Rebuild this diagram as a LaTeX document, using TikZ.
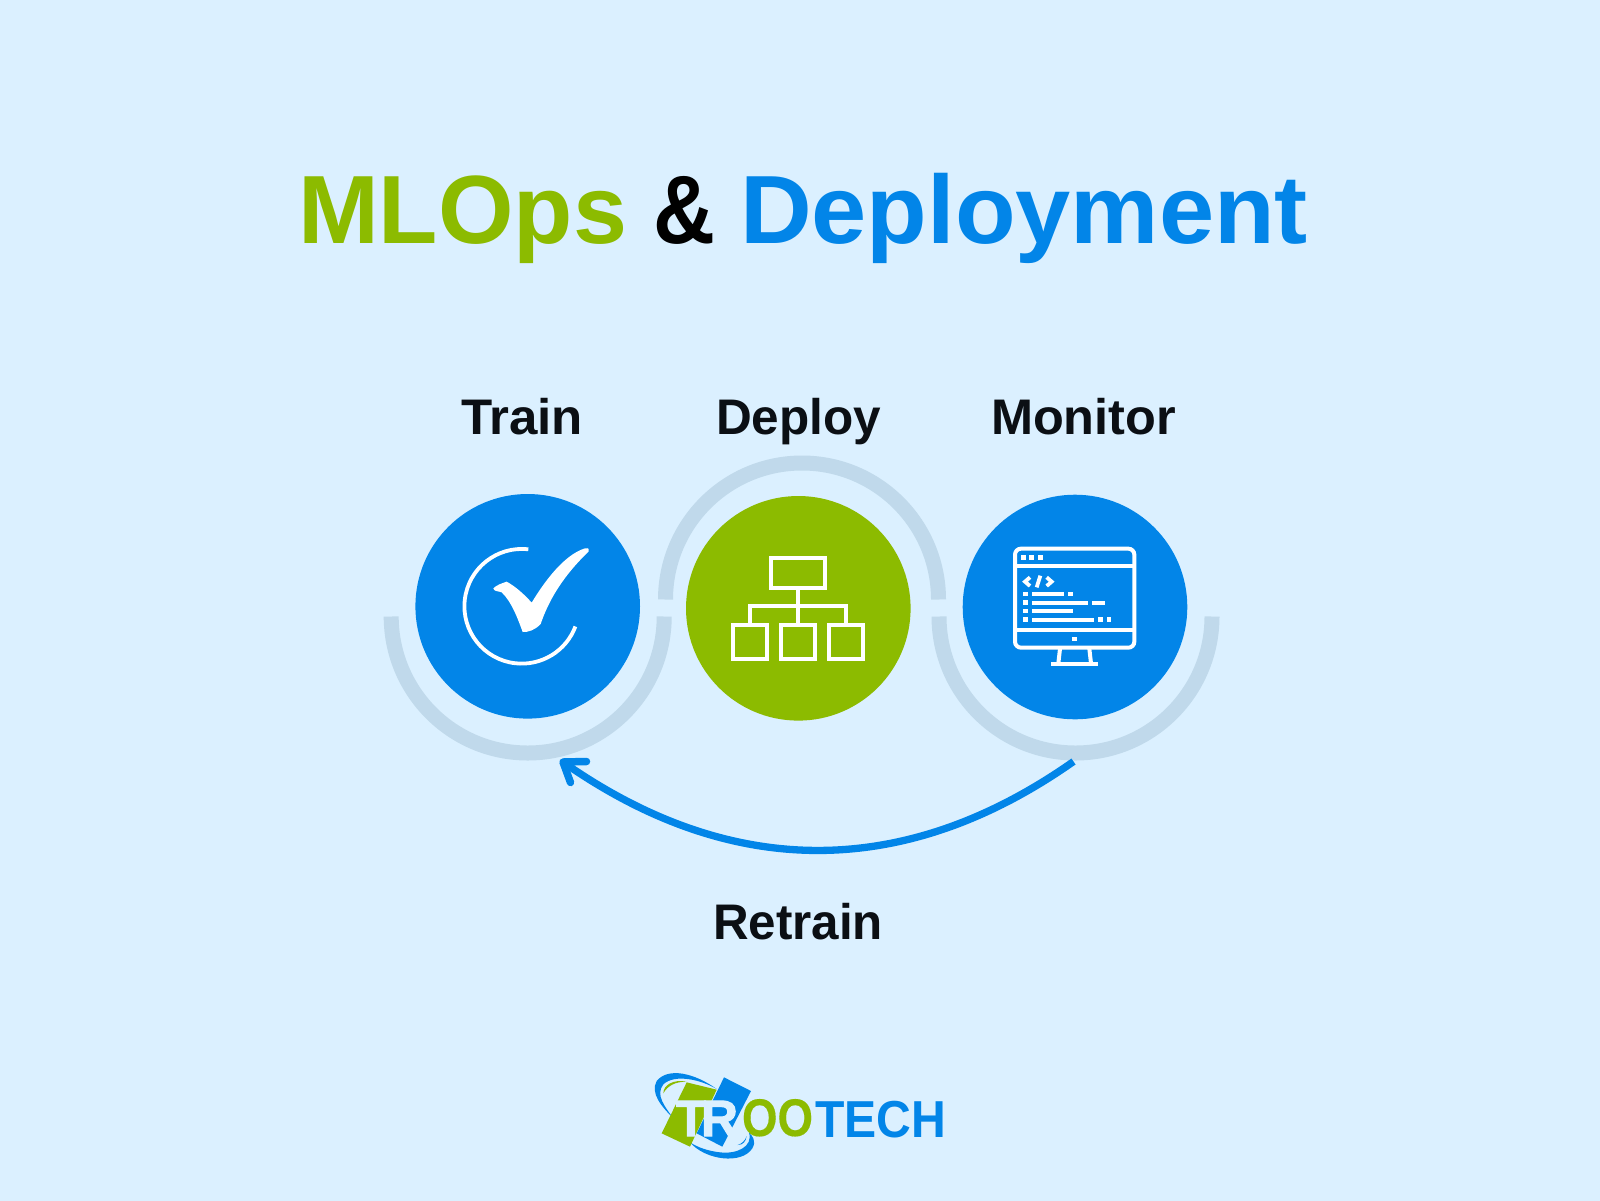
\documentclass[tikz,border=0pt]{standalone}
\usepackage{graphicx}
\usepackage{fontspec}
\setmainfont{Liberation Sans}
\newfontfamily\heavyA{Liberation Sans}[BoldFeatures={FakeBold=2.2}]
\newfontfamily\heavyB{Liberation Sans}[BoldFeatures={FakeBold=0.3}]
\definecolor{bgc}{HTML}{DBF0FF}
\definecolor{bluec}{HTML}{0285E8}
\definecolor{greenc}{HTML}{8CBB00}
\definecolor{ringc}{HTML}{C0D9EB}
\definecolor{inkc}{HTML}{0B0F14}
\newcommand{\widetext}[3]{\resizebox{#1pt}{\height}{\fontsize{#2}{#2}\selectfont\bfseries #3}}
\tikzset{
  txt/.style={anchor=base west,inner sep=0pt,outer sep=0pt},
  disc/.style={circle,inner sep=0pt,minimum size=224.6pt,fill=#1},
  halo/.style={draw=ringc,line width=15pt,line cap=butt},
  icon/.style={draw=white,line width=4pt,line cap=butt,line join=miter},
  flow/.style={draw=bluec,line width=7.3pt,line cap=butt},
  tip/.style={draw=bluec,line width=7.5pt,line cap=round,line join=round},
}
\begin{document}
\begin{tikzpicture}[x=1pt,y=-1pt]
\useasboundingbox (0,0) rectangle (1600,1200);
\fill[bgc] (-5,-5) rectangle (1605,1205);

% title
\node[txt,text=greenc] (titleA) at (298,243) {\widetext{329}{97}{MLOps}};
\node[txt,text=black] (titleB) at (653,243) {\widetext{62}{97}{\&}};
\node[txt,text=bluec] (titleC) at (740,243) {\widetext{568}{97}{Deployment}};

% labels
\node[txt,text=inkc] (ltrain) at (461,434) {\widetext{122}{50}{Train}};
\node[txt,text=inkc] (ldeploy) at (716,434) {\widetext{165}{50}{Deploy}};
\node[txt,text=inkc] (lmonitor) at (991,434) {\widetext{185}{50}{Monitor}};
\node[txt,text=inkc] (lretrain) at (713,939) {\widetext{170}{50}{Retrain}};

% halos
\draw[halo] (391.2,616.5) arc[start angle=180,end angle=0,radius=136.5];
\draw[halo] (665.5,599.5) arc[start angle=180,end angle=360,radius=136.5];
\draw[halo] (939,616.5) arc[start angle=180,end angle=0,radius=136.5];

% discs
\node[disc=bluec] (train) at (527.7,606.3) {};
\node[disc=greenc] (deploy) at (798.3,608.3) {};
\node[disc=bluec] (monitor) at (1075,607) {};

% retrain arrow
\coordinate (from) at (1073.5,761.5);
\coordinate (to) at (563,762);
\draw[flow] (from) .. controls (905,880) and (731,880) .. (to);
\coordinate (barbA) at (586.5,761.5);
\coordinate (barbB) at (570.5,782.5);
\draw[tip] (barbA) -- (to) -- (barbB);

% check icon
\begin{scope}[shift={(400,480)},x=0.33333pt,y=-0.33333pt]
\draw[white,line width=3.8pt] (385,208) arc[start angle=-83.4,end angle=-339.4,radius=172];
\fill[white] (280,325) .. controls (290,315) and (305,310) .. (320,305)
  .. controls (345,318) and (375,345) .. (395,368)
  .. controls (430,310) and (490,225) .. (555,205)
  .. controls (565,203) and (570,208) .. (566,214)
  .. controls (530,250) and (460,320) .. (422,432)
  .. controls (405,450) and (385,457) .. (368,456)
  .. controls (355,420) and (335,365) .. (305,337)
  .. controls (295,333) and (282,335) .. (280,325) -- cycle;
\end{scope}

% org icon
\begin{scope}[shift={(680,490)},x=0.33333pt,y=-0.33333pt]
\draw[icon] (273,203) rectangle (436,293);
\draw[icon] (354,293) -- (354,400);
\draw[icon] (211,400) -- (211,349) -- (497,349) -- (497,400);
\draw[icon] (160,405) rectangle (262,507);
\draw[icon] (303,405) rectangle (406,507);
\draw[icon] (447,405) rectangle (550,507);
\end{scope}

% monitor icon
\begin{scope}[shift={(960,490)},x=0.33333pt,y=-0.33333pt]
\draw[icon,rounded corners=6pt] (165,176) rectangle (523,473);
\draw[icon] (165,228) -- (523,228);
\draw[icon] (165,421) -- (523,421);
\foreach \px in {190,215,241} \fill[white] (\px-7,196) rectangle (\px+7,210);
\draw[icon,line width=3.8pt] (210,262) -- (195,275) -- (210,288);
\draw[icon,line width=3.8pt] (241,257) -- (230,292);
\draw[icon,line width=3.8pt] (260,262) -- (275,275) -- (260,288);
\foreach \py in {312,338,363,389} \fill[white] (189,\py-7) rectangle (203,\py+7);
\fill[white] (216,306) rectangle (312,319);
\fill[white] (325,305) rectangle (338,319);
\fill[white] (216,332) rectangle (383,345);
\fill[white] (396,332) rectangle (434,345);
\fill[white] (216,357) rectangle (338,370);
\fill[white] (216,383) rectangle (402,396);
\fill[white] (415,382) rectangle (428,396);
\fill[white] (441,382) rectangle (454,396);
\fill[white] (337,440) rectangle (351,454);
\draw[icon] (300,476) -- (295,520);
\draw[icon] (388,476) -- (393,520);
\draw[icon] (273,523) -- (414,523);
\end{scope}

% logo
\begin{scope}[shift={(645,1065)},x=0.33333pt,y=-0.33333pt]
\fill[bluec] (215,72) .. controls (150,25) and (70,5) .. (35,48)
  .. controls (15,85) and (50,125) .. (85,160)
  .. controls (60,125) and (30,90) .. (55,58)
  .. controls (90,25) and (170,45) .. (215,72) -- cycle;
\fill[bluec] (135,232) .. controls (180,285) and (290,300) .. (322,250)
  .. controls (335,228) and (322,212) .. (312,203)
  .. controls (325,245) and (275,268) .. (225,262)
  .. controls (190,258) and (160,248) .. (135,232) -- cycle;
\fill[greenc] (55,85) .. controls (55,60) and (85,42) .. (125,50)
  .. controls (90,50) and (68,62) .. (55,85) -- cycle;
\fill[greenc] (125,52) -- (215,74) -- (135,245) -- (50,205) -- cycle;
\fill[bluec] (237,37) -- (318,78) -- (232,245) -- (155,205) -- cycle;
\fill[bluec] (278,240) .. controls (295,240) and (303,228) .. (305,213)
  .. controls (300,228) and (290,236) .. (278,240) -- cycle;
\end{scope}
\node[txt,text=bgc] (logoT) at (676,1136) {\heavyA\widetext{30}{51}{T}};
\node[txt,text=bgc] (logoR) at (701,1136) {\heavyA\widetext{37}{51}{R}};
\node[txt,text=greenc] (logoO) at (742,1136) {\heavyB\widetext{71}{53}{OO}};
\node[txt,text=bluec] (logoE) at (815,1137) {\widetext{131}{52}{TECH}};
\end{tikzpicture}
\end{document}
